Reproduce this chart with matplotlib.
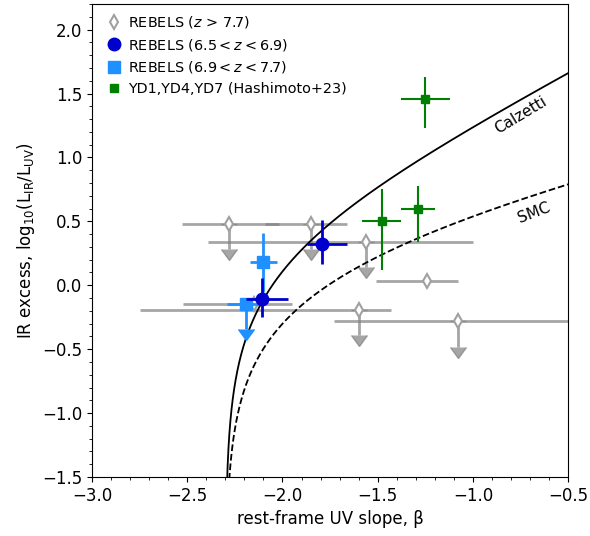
import numpy as np
import matplotlib
matplotlib.use("Agg")
import matplotlib.pyplot as plt
from matplotlib.lines import Line2D

# REBELS z > 7.7 (grey diamonds)
grey_beta = [-2.28, -1.85, -1.56, -1.24, -1.60, -1.08, -2.15]
grey_irx = [0.48, 0.48, 0.34, 0.035, -0.19, -0.28, -0.15]
grey_xlo = [0.25, 0.24, 0.83, 0.27, 1.15, 0.65, 0.37]
grey_xhi = [0.26, 0.19, 0.56, 0.16, 0.17, 0.80, 0.20]
grey_uplim = [True, True, True, False, True, True, False]

# REBELS 6.5 < z < 6.9 (blue circles)
blue_beta = [-1.79, -2.11]
blue_irx = [0.32, -0.105]
blue_xerr = [[0.08, 0.13], [0.08, 0.14]]
blue_yerr = [[0.15, 0.19], [0.14, 0.16]]

# REBELS 6.9 < z < 7.7 (light blue squares), second one is an upper limit
lb_beta = [-2.10, -2.19]
lb_irx = [0.185, -0.145]
lb_xerr = [0.07, 0.10]
lb_yerr_lo = [0.24, 0.0]
lb_yerr_hi = [0.22, 0.0]

# YD1, YD4, YD7 (Hashimoto+23)
yd_beta = [-1.25, -1.48, -1.29]
yd_irx = [1.46, 0.50, 0.60]
yd_xerr = [0.13, 0.10, 0.09]
yd_yerr_lo = [0.23, 0.38, 0.26]
yd_yerr_hi = [0.17, 0.25, 0.18]

# IRX-beta relations
beta0 = -2.3
slope_calz = 1.99
slope_smc = 0.91
bolo = 1.75

fig = plt.figure(figsize=(5.9, 5.36), dpi=100)
ax = fig.add_axes([0.156, 0.110, 0.807, 0.8825])

b = np.linspace(beta0 + 1e-4, -0.5, 2000)
irx_calz = np.log10(bolo * (10 ** (0.4 * slope_calz * (b - beta0)) - 1))
irx_smc = np.log10(bolo * (10 ** (0.4 * slope_smc * (b - beta0)) - 1))
ax.plot(b, irx_calz, color='black', lw=1.3, zorder=3)
ax.plot(b, irx_smc, color='black', lw=1.3, ls='--', zorder=3)
ax.text(-0.75, 1.33, 'Calzetti', rotation=31, ha='center', va='center', fontsize=11)
ax.text(-0.68, 0.57, 'SMC', rotation=21, ha='center', va='center', fontsize=11)

# grey upper limits
gb = np.array(grey_beta)
gi = np.array(grey_irx)
ul = np.array(grey_uplim)
ax.errorbar(gb, gi, xerr=[grey_xlo, grey_xhi], fmt='none', ecolor='grey',
            color='grey', alpha=0.7, elinewidth=2, zorder=2)
ax.errorbar(gb[ul], gi[ul], yerr=0.2, uplims=True, fmt='none', ecolor='grey',
            color='grey', alpha=0.7, elinewidth=2, capsize=5.5, zorder=2)
ax.plot(gb, gi, 'd', mfc='white', mec='#a0a0a0', mew=1.5, ms=7, ls='none', zorder=4)

ax.errorbar(blue_beta, blue_irx, xerr=np.array(blue_xerr).T, yerr=np.array(blue_yerr).T,
            fmt='o', color='mediumblue', ms=9, elinewidth=2, zorder=6)

ax.errorbar(lb_beta, lb_irx, xerr=lb_xerr, yerr=[lb_yerr_lo, lb_yerr_hi],
            fmt='s', color='dodgerblue', ms=9, elinewidth=2, zorder=5)
ax.errorbar([lb_beta[1]], [lb_irx[1]], yerr=0.2, uplims=True, fmt='none',
            ecolor='dodgerblue', color='dodgerblue', elinewidth=2, capsize=5.5, zorder=5)

ax.errorbar(yd_beta, yd_irx, xerr=yd_xerr, yerr=[yd_yerr_lo, yd_yerr_hi],
            fmt='s', color='green', ms=6, elinewidth=1.5, zorder=5)

ax.set_xlim(-3.0, -0.5)
ax.set_ylim(-1.5, 2.2)
ax.set_xticks([-3.0, -2.5, -2.0, -1.5, -1.0, -0.5])
ax.set_yticks([-1.5, -1.0, -0.5, 0.0, 0.5, 1.0, 1.5, 2.0])
ax.minorticks_on()
ax.tick_params(labelsize=12)
ax.set_xlabel('rest-frame UV slope, β', fontsize=12)
ax.set_ylabel(r'IR excess, log$_{10}$(L$_{\rm IR}$/L$_{\rm UV}$)', fontsize=12)

handles = [
    Line2D([], [], ls='none', marker='d', mfc='white', mec='#a0a0a0', mew=1.5, ms=7),
    Line2D([], [], ls='none', marker='o', color='mediumblue', ms=9),
    Line2D([], [], ls='none', marker='s', color='dodgerblue', ms=9),
    Line2D([], [], ls='none', marker='s', color='green', ms=6),
]
labels = ['REBELS ($z$ > 7.7)', 'REBELS (6.5$<z<$6.9)', 'REBELS (6.9$<z<$7.7)',
          'YD1,YD4,YD7 (Hashimoto+23)']
ax.legend(handles, labels, loc='upper left', frameon=False, fontsize=10.4,
          handletextpad=0.2, borderaxespad=0.3, handlelength=1.6, labelspacing=0.45)

fig.savefig('out.png', dpi=100)
